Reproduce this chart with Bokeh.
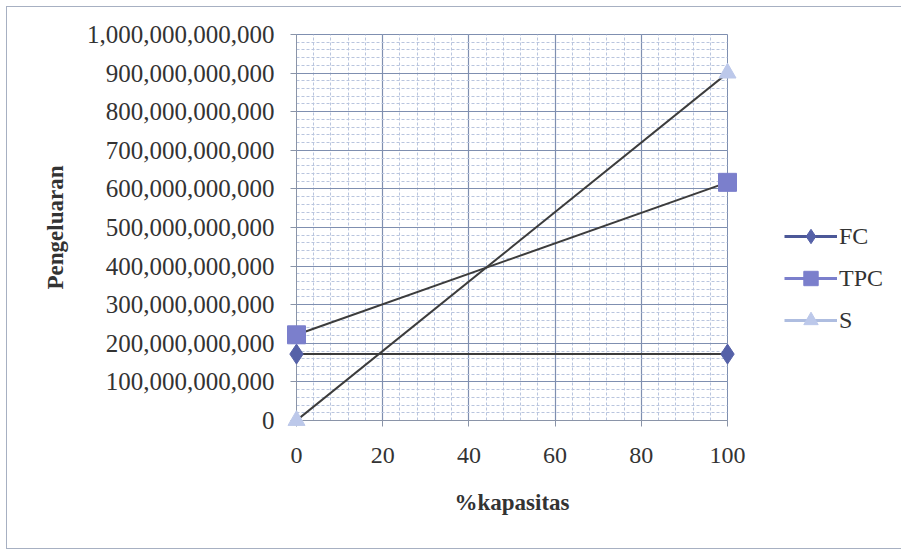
from bokeh.plotting import figure
from bokeh.models import (FixedTicker, NumeralTickFormatter, Legend, LegendItem, Range1d)
from bokeh.embed import file_html
from bokeh.resources import INLINE

# ---- data ----
kapasitas = [0, 100]
fc = [172e9, 172e9]
tpc = [222e9, 617e9]
s = [0, 900e9]

x_ticks = [0, 20, 40, 60, 80, 100]
x_minor = list(range(0, 101, 4))
y_ticks = [i * 1e11 for i in range(11)]
y_minor = [i * 2e10 for i in range(51)]

FONT = "Liberation Serif"
MAJOR = "#7f8fb0"
MINOR = "#b9c5de"

p = figure(width=893, height=541, output_backend="svg", toolbar_location=None,
           x_range=Range1d(0, 100), y_range=Range1d(0, 1e12),
           frame_width=431, frame_height=386,
           min_border_left=289, min_border_top=27, min_border_bottom=128,
           min_border_right=173)
p.styles = {"border": "1px solid #a7b0c2", "margin-left": "6px", "margin-top": "6px"}
p.background_fill_color = "white"
p.border_fill_color = "white"
p.outline_line_color = MAJOR

# axes
p.xaxis.ticker = FixedTicker(ticks=x_ticks, minor_ticks=x_minor)
p.yaxis.ticker = FixedTicker(ticks=y_ticks, minor_ticks=y_minor)
p.yaxis.formatter = NumeralTickFormatter(format="0,0")
for ax in (p.xaxis[0], p.yaxis[0]):
    ax.major_label_text_font = FONT
    ax.major_label_text_font_size = "24px"
    ax.major_label_text_color = "#333333"
    ax.axis_label_text_font = FONT
    ax.axis_label_text_font_size = "23px"
    ax.axis_label_text_font_style = "bold"
    ax.axis_label_text_color = "#333333"
    ax.axis_line_color = "#8a94a8"
    ax.major_tick_line_color = "#8a94a8"
    ax.major_tick_out = 6
    ax.major_tick_in = 0
    ax.minor_tick_line_color = None
p.yaxis.major_label_text_font_size = "25px"
p.xaxis.axis_label = "%kapasitas"
p.yaxis.axis_label = "Pengeluaran"
p.xaxis.major_label_standoff = 21
p.yaxis.major_label_standoff = 16
p.xaxis.axis_label_standoff = 24
p.yaxis.axis_label_standoff = 16

# grid
for g in (p.xgrid[0], p.ygrid[0]):
    g.grid_line_color = MAJOR
    g.grid_line_width = 1.2
    g.minor_grid_line_color = MINOR
    g.minor_grid_line_dash = "3 2"
    g.minor_grid_line_width = 1

# series
LINE = "#3c3c3c"
series = [
    ("FC", fc, "diamond", "#5561a8", "#4c5898", 20),
    ("TPC", tpc, "square", "#7b7fcc", "#7b7fcc", 18),
    ("S", s, "triangle", "#bcc8ea", "#aebde0", 17),
]
items = []
for name, vals, marker, mcolor, lcolor, size in series:
    p.line(kapasitas, vals, line_color=LINE, line_width=2)
    sc = p.scatter(kapasitas, vals, marker=marker, size=size,
                   fill_color=mcolor, line_color=mcolor, level="overlay")
    dummy = p.line([-1000, -900], [0, 0], line_color=lcolor, line_width=3)
    items.append(LegendItem(label=name, renderers=[dummy, sc]))

legend = Legend(items=items, location=(57, 82), orientation="vertical")
legend.label_text_font = FONT
legend.label_text_font_size = "24px"
legend.label_text_color = "#333333"
legend.glyph_width = 53
legend.glyph_height = 36
legend.label_standoff = 2
legend.spacing = 6
legend.border_line_color = None
legend.background_fill_alpha = 0
legend.padding = 0
legend.margin = 0
p.add_layout(legend, "right")

open("out.html", "w").write(file_html(p, INLINE))
